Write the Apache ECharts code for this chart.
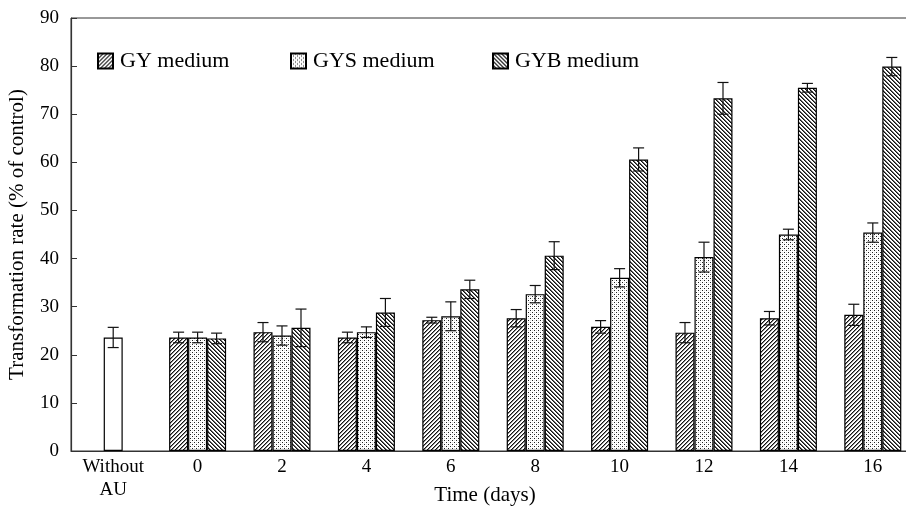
<!DOCTYPE html>
<html><head><meta charset="utf-8">
<script src="https://cdn.jsdelivr.net/npm/echarts@6/dist/echarts.min.js"></script>
<style>html,body{margin:0;padding:0;background:#fff}#c{width:906px;height:509px}</style>
</head><body><div id="c"></div>
<script>
var categories = ['Without\nAU', '0', '2', '4', '6', '8', '10', '12', '14', '16'];
var seriesNames = ['GY medium', 'GYS medium', 'GYB medium'];
var withoutAU = 23.6, withoutAUErr = 2.1;
var gyValues  = [23.6, 24.7, 23.6, 27.2, 27.6, 25.8, 24.6, 27.6, 28.3];
var gyErr     = [1.1, 2.0, 1.1, 0.6, 1.8, 1.3, 2.1, 1.4, 2.2];
var gysValues = [23.6, 24.0, 24.7, 28.0, 32.6, 36.0, 40.3, 45.0, 45.4];
var gysErr    = [1.1, 2.0, 1.1, 3.0, 1.8, 1.9, 3.1, 1.1, 2.0];
var gybValues = [23.4, 25.6, 28.8, 33.6, 40.6, 60.6, 73.3, 75.5, 79.9];
var gybErr    = [1.1, 3.9, 2.9, 1.9, 2.9, 2.4, 3.3, 0.9, 1.9];
var yTicks = [0, 10, 20, 30, 40, 50, 60, 70, 80, 90];

function makePattern(kind) {
  var s = 4;
  var c = document.createElement('canvas');
  c.width = s; c.height = s;
  var ctx = c.getContext('2d');
  ctx.fillStyle = '#fff'; ctx.fillRect(0, 0, s, s);
  for (var x = 0; x < s; x++) for (var y = 0; y < s; y++) {
    var v = null;
    if (kind === 'fwd') { var m = (x + y) % 4; if (m === 0) v = '#111'; else if (m === 1) v = '#888'; }
    else if (kind === 'back') { var m2 = ((x - y) % 4 + 4) % 4; if (m2 === 0) v = '#111'; else if (m2 === 1) v = '#666'; }
    else { if ((x === 0 && y === 0) || (x === 2 && y === 2)) v = '#222'; else if ((x === 2 && y === 0) || (x === 0 && y === 2)) v = '#ddd'; }
    if (v) { ctx.fillStyle = v; ctx.fillRect(x, y, 1, 1); }
  }
  return { image: c, repeat: 'repeat' };
}
var patterns = [makePattern('fwd'), makePattern('dots'), makePattern('back')];

var BW = 19;
var barData = [
  ['-'].concat(gyValues),
  [{ value: withoutAU, itemStyle: { color: '#fff' } }].concat(gysValues),
  ['-'].concat(gybValues)
];
var errData = [];
[[gyValues, gyErr], [gysValues, gysErr], [gybValues, gybErr]].forEach(function (p, k) {
  p[0].forEach(function (v, i) { errData.push([i + 1, v - p[1][i], v + p[1][i], k]); });
});
errData.push([0, withoutAU - withoutAUErr, withoutAU + withoutAUErr, 1]);

var font = 'Liberation Serif';
var series = [];
for (var k = 0; k < 3; k++) {
  series.push({
    name: seriesNames[k], type: 'bar', data: barData[k], barWidth: BW, barGap: '0%',
    itemStyle: { color: patterns[k], borderColor: '#000', borderWidth: 1.2 },
    emphasis: { disabled: true }, animation: false
  });
}
series.push({
  type: 'custom', data: errData, encode: { x: 0, y: [1, 2] }, z: 10, animation: false,
  renderItem: function (params, api) {
    var idx = api.value(0), k = api.value(3);
    var lo = api.coord([idx, api.value(1)]), hi = api.coord([idx, api.value(2)]);
    var x = lo[0] + (k - 1) * BW;
    var hw = 5.5;
    var st = { stroke: '#111', lineWidth: 1.2 };
    return { type: 'group', children: [
      { type: 'line', shape: { x1: x, y1: lo[1], x2: x, y2: hi[1] }, style: st },
      { type: 'line', shape: { x1: x - hw, y1: hi[1], x2: x + hw, y2: hi[1] }, style: st },
      { type: 'line', shape: { x1: x - hw, y1: lo[1], x2: x + hw, y2: lo[1] }, style: st }
    ] };
  }
});

var legendLefts = [97, 290, 492];
var legends = seriesNames.map(function (n, i) {
  return { data: [n], left: legendLefts[i], top: 50, padding: 0, itemWidth: 15, itemHeight: 15,
    icon: 'rect', selectedMode: false,
    textStyle: { fontFamily: font, fontSize: 22, color: '#000', padding: [0, 0, 0, 2] } };
});

var chart = echarts.init(document.getElementById('c'), null, { renderer: 'canvas' });
chart.setOption({
  backgroundColor: '#fff',
  animation: false,
  legend: legends,
  grid: { left: 71, width: 844, top: 18, height: 433, outerBoundsMode: 'none', containLabel: false,
    show: true, borderColor: '#333', borderWidth: 1, backgroundColor: 'transparent' },
  xAxis: {
    type: 'category', data: categories,
    name: 'Time (days)', nameLocation: 'middle', nameGap: 34, nameMoveOverlap: false,
    nameTextStyle: { fontFamily: font, fontSize: 21, color: '#000', padding: [0, 16, 0, 0] },
    axisLine: { lineStyle: { color: '#333', width: 1.2 } },
    axisTick: { inside: true, length: 6, lineStyle: { color: '#333' } },
    axisLabel: { fontFamily: font, fontSize: 19, color: '#000', margin: 5, lineHeight: 23 }
  },
  yAxis: {
    type: 'value', min: 0, max: 90, interval: 10,
    name: 'Transformation rate (% of control)', nameLocation: 'middle', nameGap: 43, nameMoveOverlap: false,
    nameTextStyle: { fontFamily: font, fontSize: 21, color: '#000' },
    axisLine: { show: true, lineStyle: { color: '#333', width: 1.2 } },
    axisTick: { show: true, inside: true, length: 6, lineStyle: { color: '#333' } },
    axisLabel: { fontFamily: font, fontSize: 19, color: '#000', margin: 12,
      formatter: function (v) { return yTicks.indexOf(v) >= 0 ? String(v) : ''; } },
    splitLine: { show: false }
  },
  series: series
});
</script></body></html>
